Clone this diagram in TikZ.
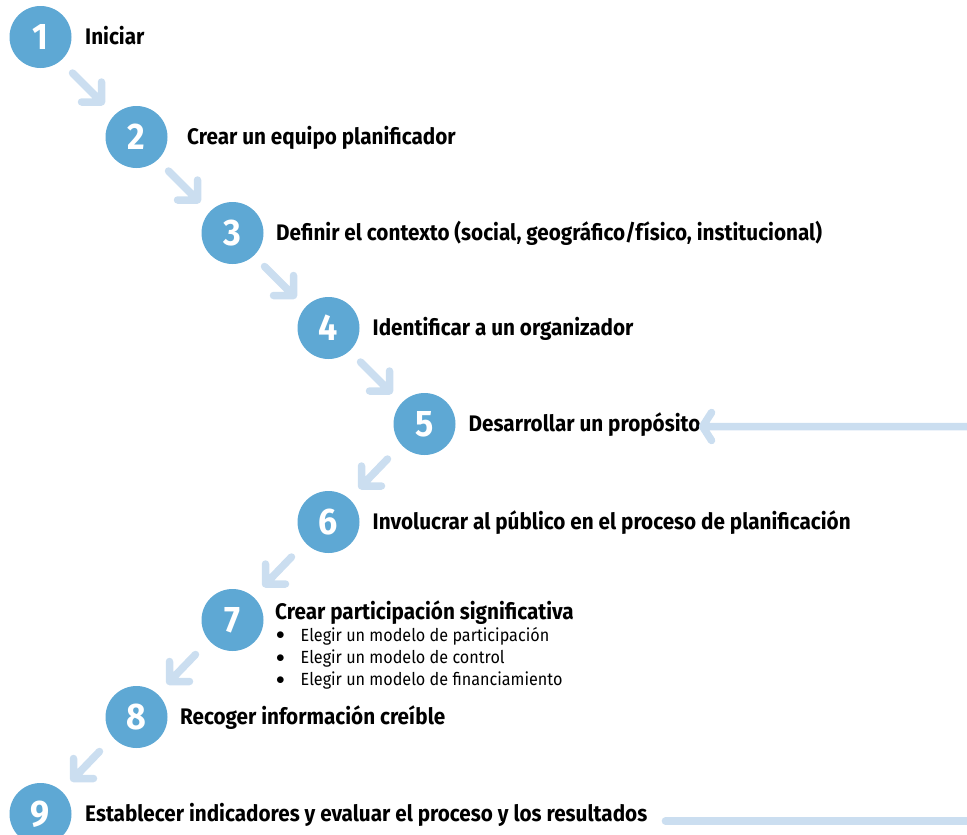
\documentclass[tikz,border=0pt]{standalone}
\usepackage{fontspec}
\setmainfont{Fira Sans}[FakeStretch=0.92]
\usetikzlibrary{calc}
\definecolor{stepblue}{RGB}{94,168,212}
\definecolor{arrowblue}{RGB}{203,222,240}
\tikzset{
  stepdot/.style={circle, fill=stepblue, minimum size=62pt, inner sep=0pt,
    text=white, font=\fontsize{37}{37}\selectfont\bfseries},
  steptext/.style={anchor=base west, inner sep=0pt,
    font=\fontsize{22.5}{27}\selectfont\bfseries},
  subtext/.style={anchor=base west, inner sep=0pt,
    font=\fontsize{17.6}{22.3}\selectfont},
  feed/.style={arrowblue, line width=7.5pt, line cap=round, line join=round},
  flowdr/.style={feed, to path={($(\tikztostart)!.5!(\tikztotarget)$) coordinate (m)
    ($(m)+(-16,-14)$) -- ($(m)+(13,15)$) ++(0,-20) -- ++(0,20) -- ++(-20,0)}},
  flowdl/.style={feed, to path={($(\tikztostart)!.5!(\tikztotarget)$) coordinate (m)
    ($(m)+(11,-14)$) -- ($(m)+(-15,13)$) ++(0,-20) -- ++(0,20) -- ++(20,0)}},
}
\newcommand{\bul}{\makebox[24.5pt][l]{\raisebox{1.5pt}{$\bullet$}}}
\begin{document}
\begin{tikzpicture}[x=1pt, y=-1pt]
  \useasboundingbox (0,0) rectangle (967,835);
  % ------ circles -----------------
  \node [stepdot] (c1) at (40.5,37) {1};
  \node [stepdot] (c2) at (136.5,137) {2};
  \node [stepdot] (c3) at (232.5,233) {3};
  \node [stepdot] (c4) at (328.5,328) {4};
  \node [stepdot] (c5) at (424.5,424) {5};
  \node [stepdot] (c6) at (328.5,522) {6};
  \node [stepdot] (c7) at (232.5,620) {7};
  \node [stepdot] (c8) at (136.5,717) {8};
  \node [stepdot] (c9) at (40.5,814) {9};
  % ------ texts -----------------
  \node [steptext] (t1) at ($(c1)+(44.5,7)$) {Iniciar};
  \node [steptext] (t2) at ($(c2)+(50.5,7)$) {Crear un equipo planificador};
  \node [steptext] (t3) at ($(c3)+(43.5,7)$) {Definir el contexto (social, geográfico/físico, institucional)};
  \node [steptext] (t4) at ($(c4)+(44,7)$) {Identificar a un organizador};
  \node [steptext] (t5) at ($(c5)+(44,7)$) {Desarrollar un propósito};
  \node [steptext] (t6) at ($(c6)+(44,7)$) {Involucrar al público en el proceso de planificación};
  \node [steptext] (t7) at ($(c7)+(42.5,-1)$) {Crear participación significativa};
  \node [subtext] (s7) at ($(t7.base west)+(1,22.3)$)
    {\begin{tabular}[t]{@{}l@{}}
     \bul Elegir un modelo de participación\\
     \bul Elegir un modelo de control\\
     \bul Elegir un modelo de financiamiento
     \end{tabular}};
  \node [steptext] (t8) at ($(c8)+(43.5,7)$) {Recoger información creíble};
  \node [steptext] (t9) at ($(c9)+(44.5,7)$) {Establecer indicadores y evaluar el proceso y los resultados};
  % ------ arrows -----------------
  \draw [flowdr] (c1) to (c2);
  \draw [flowdr] (c2) to (c3);
  \draw [flowdr] (c3) to (c4);
  \draw [flowdr] (c4) to (c5);
  \draw [flowdl] (c5) to (c6);
  \draw [flowdl] (c6) to (c7);
  \draw [flowdl] (c7) to (c8);
  \draw [flowdl] (c8) to (c9);
  % ------ feedback lines -----------------
  \coordinate (r5) at (975,426.5);
  \coordinate (r9) at (975,821);
  \draw [feed] (r5) -- ($(r5 -| t5.east)+(2,0)$) coordinate (h5)
    ++(9,-14) -- (h5) -- ++(9,14);
  \draw [feed, shorten >=18pt] (r9) -- (r9 -| t9.east);
\end{tikzpicture}
\end{document}
